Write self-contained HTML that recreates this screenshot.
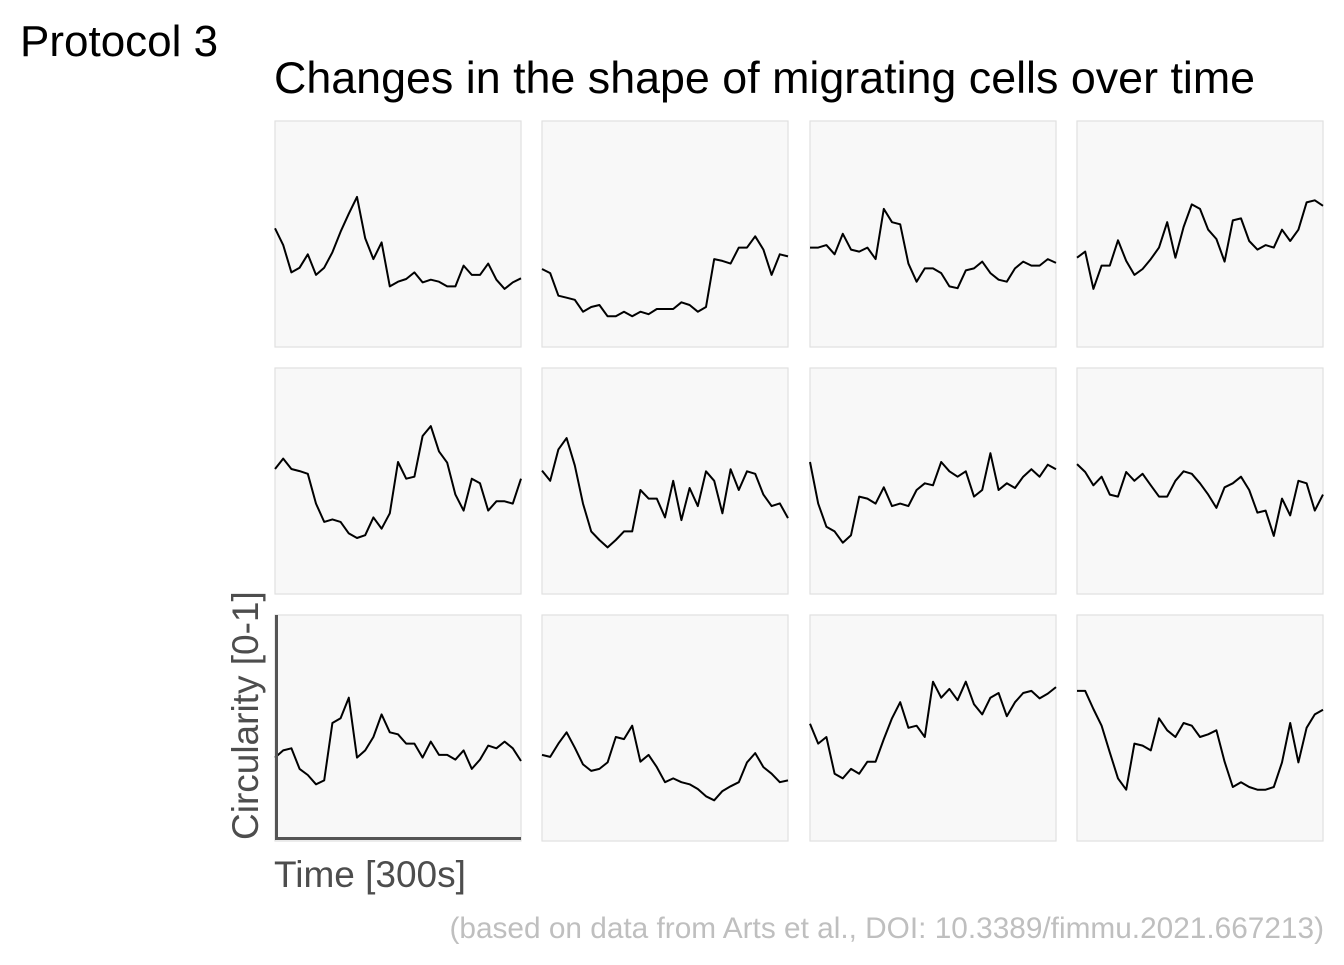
<!DOCTYPE html>
<html><head><meta charset="utf-8"><style>
body{margin:0;background:#fff;width:1344px;height:960px;overflow:hidden;font-family:"Liberation Sans",Arial,sans-serif}
</style></head><body>
<svg id="chart" width="1344" height="960" xmlns="http://www.w3.org/2000/svg">
<text x="20" y="56" font-size="44" fill="#000">Protocol 3</text>
<text x="274" y="93" font-size="44.8" fill="#000">Changes in the shape of migrating cells over time</text>
<text x="274" y="887" font-size="37" fill="#4d4d4d">Time [300s]</text>
<text transform="translate(258,840) rotate(-90)" x="0" y="0" font-size="37" fill="#4d4d4d">Circularity [0-1]</text>
<text x="1324" y="938" font-size="29.8" fill="#bfbfbf" text-anchor="end">(based on data from Arts et al., DOI: 10.3389/fimmu.2021.667213)</text>
<g id="panels"></g>
</svg>
<script>
const timeSteps = 31;
const yDomain = [0, 1];
const s1 = [0.525,0.451,0.330,0.351,0.410,0.319,0.351,0.419,0.510,0.590,0.664,0.481,0.389,0.463,0.268,0.289,0.301,0.330,0.286,0.298,0.289,0.268,0.268,0.360,0.319,0.319,0.369,0.298,0.257,0.286,0.304];
const s2 = [0.345,0.327,0.227,0.218,0.209,0.156,0.177,0.186,0.136,0.136,0.156,0.136,0.156,0.145,0.168,0.168,0.168,0.198,0.186,0.156,0.177,0.389,0.381,0.369,0.440,0.440,0.490,0.431,0.319,0.410,0.401];
const s3 = [0.440,0.440,0.451,0.410,0.501,0.431,0.422,0.440,0.389,0.611,0.552,0.543,0.369,0.289,0.348,0.348,0.327,0.268,0.260,0.339,0.348,0.378,0.327,0.298,0.289,0.348,0.378,0.360,0.360,0.389,0.372];
const s4 = [0.395,0.422,0.257,0.360,0.360,0.472,0.381,0.319,0.345,0.389,0.440,0.552,0.395,0.531,0.631,0.611,0.519,0.478,0.378,0.560,0.569,0.469,0.431,0.451,0.440,0.519,0.469,0.519,0.640,0.649,0.625];
const s5 = [0.553,0.599,0.553,0.544,0.532,0.400,0.319,0.330,0.319,0.268,0.248,0.260,0.339,0.289,0.357,0.584,0.510,0.519,0.699,0.743,0.631,0.581,0.440,0.369,0.510,0.490,0.369,0.410,0.410,0.400,0.510];
const s6 = [0.546,0.501,0.640,0.690,0.569,0.400,0.277,0.239,0.206,0.239,0.277,0.277,0.460,0.422,0.422,0.339,0.501,0.327,0.469,0.389,0.543,0.501,0.357,0.552,0.460,0.543,0.532,0.440,0.389,0.401,0.336];
const s7 = [0.584,0.400,0.298,0.277,0.227,0.260,0.431,0.422,0.400,0.472,0.389,0.400,0.389,0.460,0.490,0.481,0.584,0.543,0.519,0.543,0.431,0.460,0.623,0.460,0.490,0.469,0.519,0.552,0.519,0.572,0.552];
const s8 = [0.575,0.540,0.481,0.519,0.440,0.431,0.540,0.501,0.532,0.481,0.431,0.431,0.501,0.543,0.532,0.490,0.440,0.381,0.472,0.490,0.519,0.460,0.360,0.369,0.257,0.422,0.348,0.501,0.490,0.369,0.440];
const s9 = [0.369,0.401,0.410,0.319,0.292,0.251,0.268,0.522,0.543,0.634,0.369,0.401,0.460,0.560,0.481,0.472,0.431,0.431,0.369,0.440,0.381,0.381,0.360,0.401,0.319,0.360,0.422,0.410,0.440,0.410,0.354];
const s10 = [0.381,0.372,0.431,0.481,0.413,0.339,0.310,0.319,0.348,0.460,0.451,0.510,0.351,0.381,0.327,0.260,0.277,0.260,0.251,0.230,0.198,0.180,0.221,0.242,0.260,0.348,0.389,0.327,0.298,0.260,0.268];
const s11 = [0.519,0.431,0.460,0.298,0.277,0.319,0.298,0.351,0.351,0.451,0.543,0.614,0.501,0.510,0.460,0.705,0.634,0.673,0.623,0.705,0.605,0.560,0.634,0.655,0.552,0.614,0.655,0.664,0.631,0.652,0.681];
const s12 = [0.664,0.664,0.584,0.510,0.392,0.277,0.227,0.431,0.422,0.401,0.543,0.490,0.460,0.522,0.510,0.460,0.472,0.490,0.351,0.239,0.260,0.239,0.227,0.227,0.239,0.348,0.522,0.348,0.501,0.560,0.581];
const series = [s1,s2,s3,s4,s5,s6,s7,s8,s9,s10,s11,s12];

const NS = "http://www.w3.org/2000/svg";
const colX = [275, 542, 810, 1077], rowY = [121, 368, 615], pw = 246, ph = 226;
const g = document.getElementById('panels');
series.forEach((data, i) => {
  const px = colX[i % 4], py = rowY[Math.floor(i / 4)];
  const xs = t => px + t / (timeSteps - 1) * pw;
  const ys = v => py + (1 - (v - yDomain[0]) / (yDomain[1] - yDomain[0])) * ph;
  const rect = document.createElementNS(NS, 'rect');
  rect.setAttribute('x', px); rect.setAttribute('y', py);
  rect.setAttribute('width', pw); rect.setAttribute('height', ph);
  rect.setAttribute('fill', '#f8f8f8'); rect.setAttribute('stroke', '#e0e0e0'); rect.setAttribute('stroke-width', '1.2');
  
  
  g.appendChild(rect);
  const line = document.createElementNS(NS, 'polyline');
  line.setAttribute('points', data.map((v, t) => xs(t).toFixed(1) + ',' + ys(v).toFixed(1)).join(' '));
  line.setAttribute('fill', 'none'); line.setAttribute('stroke', '#000'); line.setAttribute('stroke-width', '2');
  line.setAttribute('stroke-linejoin', 'round');
  
  
  g.appendChild(line);
});
const ax = document.createElementNS(NS, 'polyline');
ax.setAttribute('points', '276.5,615 276.5,838.5 521,838.5');
ax.setAttribute('fill', 'none'); ax.setAttribute('stroke', '#555'); ax.setAttribute('stroke-width', '3');


g.appendChild(ax);
</script>
</body></html>
